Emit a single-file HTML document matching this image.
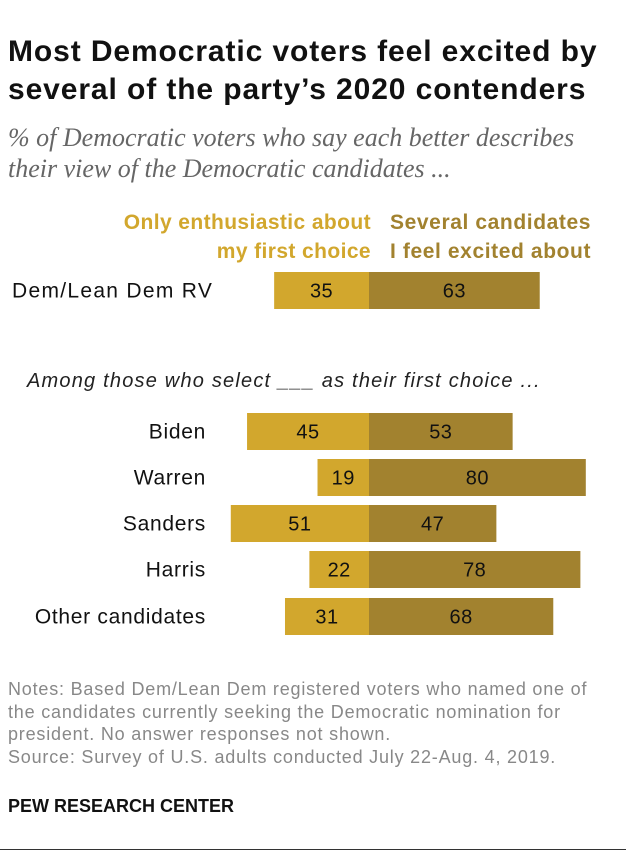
<!DOCTYPE html>
<html><head><meta charset="utf-8"><style>
body{margin:0;width:626px;height:862px;background:#fff;font-family:"Liberation Sans",Arial,sans-serif;position:relative;overflow:hidden}
.t{position:absolute;white-space:nowrap}
</style></head><body>
<div class="t" style="left:8px;top:33px;font-size:30px;letter-spacing:0.9px;font-weight:bold;line-height:38px;color:#111">Most Democratic voters feel excited by<br>several of the party’s 2020 contenders</div>
<div class="t" style="left:8px;top:122px;font-family:'Liberation Serif',serif;font-style:italic;font-size:26px;line-height:31px;color:#666">% of Democratic voters who say each better describes<br>their view of the Democratic candidates ...</div>
<div class="t" style="right:255px;top:208px;text-align:right;font-size:21px;letter-spacing:0.4px;font-weight:bold;line-height:29px;color:#D2A72D">Only enthusiastic about<br>my first choice</div>
<div class="t" style="left:390px;top:208px;text-align:right;font-size:21px;letter-spacing:0.6px;font-weight:bold;line-height:29px;color:#A2822F">Several candidates<br>I feel excited about</div>
<div class="t" style="left:27px;top:370px;font-size:20px;letter-spacing:1.2px;font-style:italic;color:#222">Among those who select ___ as their first choice ...</div>
<svg id="chart" width="626" height="862" style="position:absolute;left:0;top:0"></svg>
<div class="t" style="left:8px;top:678px;font-size:18px;letter-spacing:0.8px;line-height:22.5px;color:#888">Notes: Based Dem/Lean Dem registered voters who named one of<br>the candidates currently seeking the Democratic nomination for<br>president. No answer responses not shown.<br>Source: Survey of U.S. adults conducted July 22-Aug. 4, 2019.</div>
<div class="t" style="left:8px;top:796px;font-size:18px;font-weight:bold;color:#111">PEW RESEARCH CENTER</div>
<div style="position:absolute;left:0;top:849px;width:626px;height:1px;background:#333"></div>
<script>
const categories=["Dem/Lean Dem RV","Biden","Warren","Sanders","Harris","Other candidates"];
const onlyFirst=[35,45,19,51,22,31];
const several=[63,53,80,47,78,68];
const rowTops=[272,413,459,505,551,598];
const cx=369, k=2.71, bh=37;
const x=v=>v*k;
const svg=document.getElementById('chart');
const NS='http://www.w3.org/2000/svg';
categories.forEach((c,i)=>{
  const y=rowTops[i];
  const r1=document.createElementNS(NS,'rect');
  r1.setAttribute('x',cx-x(onlyFirst[i]));r1.setAttribute('y',y);r1.setAttribute('width',x(onlyFirst[i]));r1.setAttribute('height',bh);r1.setAttribute('fill','#D2A72D');
  
  
  svg.appendChild(r1);
  const r2=document.createElementNS(NS,'rect');
  r2.setAttribute('x',cx);r2.setAttribute('y',y);r2.setAttribute('width',x(several[i]));r2.setAttribute('height',bh);r2.setAttribute('fill','#A2822F');
  
  
  svg.appendChild(r2);
  const mk=(tx,anchor,txt,name,fs,ls)=>{const t=document.createElementNS(NS,'text');t.setAttribute('x',tx);t.setAttribute('y',y+bh/2+7);t.setAttribute('text-anchor',anchor);t.setAttribute('font-size',fs);t.setAttribute('letter-spacing',ls);t.setAttribute('fill','#111');t.setAttribute('font-family','Liberation Sans, sans-serif');t.textContent=txt;
    
    
    svg.appendChild(t);};
  mk(cx-x(onlyFirst[i])/2,'middle',onlyFirst[i],'value-only-first-'+i,'20','0.5');
  mk(cx+x(several[i])/2,'middle',several[i],'value-several-'+i,'20','0.5');
  if(i===0) mk(12,'start',c,'category-label-'+i,'21','1.3'); else mk(206,'end',c,'category-label-'+i,'21','0.7');
});
</script>
</body></html>
